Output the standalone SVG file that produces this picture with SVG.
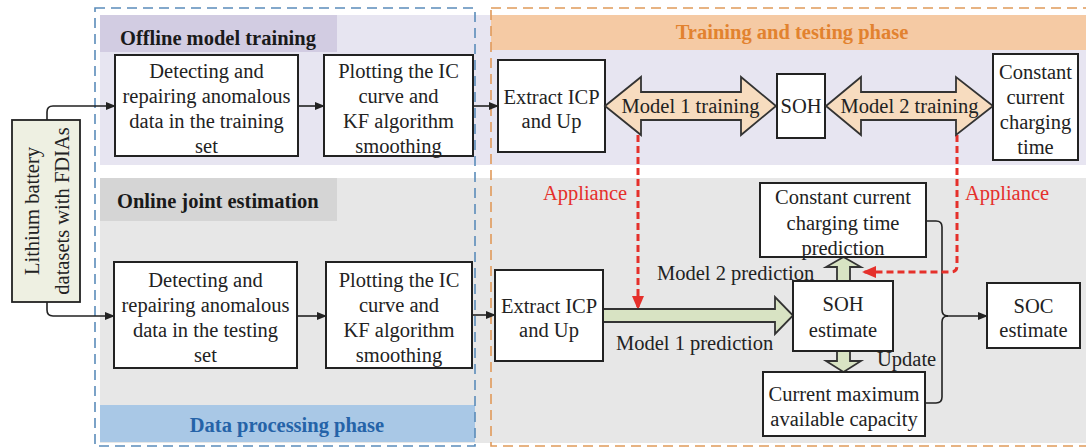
<svg xmlns="http://www.w3.org/2000/svg" width="1086" height="448" viewBox="0 0 1086 448">
<defs>
<style>
.t{font-family:"Liberation Serif","Times New Roman",serif;font-size:20.5px;fill:#222;text-anchor:middle}
.ts{font-family:"Liberation Serif","Times New Roman",serif;font-size:20.5px;fill:#222}
.hb{font-family:"Liberation Serif","Times New Roman",serif;font-size:20.5px;font-weight:bold}
.red{font-family:"Liberation Serif","Times New Roman",serif;font-size:20.5px;fill:#e5302b;text-anchor:middle}
.box{fill:#fff;stroke:#222;stroke-width:2}
.ln{fill:none;stroke:#222;stroke-width:1.6}
.rd{fill:none;stroke:#e5302b;stroke-width:3;stroke-dasharray:7 4}
.peach{fill:#f7dcbf;stroke:#333;stroke-width:1.8}
.green{fill:#d8e3c3;stroke:#333;stroke-width:1.8}
</style>
<marker id="ah" markerWidth="10" markerHeight="8" refX="9" refY="4" orient="auto" markerUnits="userSpaceOnUse">
<path d="M0,0 L10,4 L0,8 Z" fill="#222"/>
</marker>
<marker id="rh" markerWidth="14" markerHeight="12" refX="13" refY="6" orient="auto" markerUnits="userSpaceOnUse">
<path d="M0,0 L14,6 L0,12 Z" fill="#e5302b"/>
</marker>
</defs>

<g id="backgrounds">
<rect x="100" y="15" width="986" height="150" fill="#e7e5f1"/>
<rect x="100" y="15" width="237" height="37" fill="#d2cce2"/>
<rect x="491" y="15" width="595" height="35" fill="#f5caa4"/>
<rect x="100" y="178" width="986" height="265" fill="#e7e7e7"/>
<rect x="100" y="178" width="237" height="43" fill="#d5d5d5"/>
<rect x="100" y="405" width="375" height="37" fill="#a9c8e6"/>
<rect x="95" y="8" width="380" height="438" fill="none" stroke="#5b8cba" stroke-width="1.6" stroke-dasharray="10 6"/>
<rect x="491" y="8" width="600" height="438" fill="none" stroke="#e09a5a" stroke-width="1.6" stroke-dasharray="10 6"/>
<text class="hb" x="120" y="45" fill="#1a1a1a">Offline model training</text>
<text class="hb" x="117" y="208" fill="#1a1a1a">Online joint estimation</text>
<text class="hb" x="287" y="432" fill="#2563a8" text-anchor="middle">Data processing phase</text>
<text class="hb" x="792" y="39" fill="#e2822f" text-anchor="middle">Training and testing phase</text>
</g>

<g id="connectors">
<path class="ln" d="M47,120 V112 Q47,106 53,106 H115" marker-end="url(#ah)"/>
<path class="ln" d="M47,302 V310 Q47,316 53,316 H114" marker-end="url(#ah)"/>
<path class="ln" d="M298,106 H324" marker-end="url(#ah)"/>
<path class="ln" d="M297,316 H326" marker-end="url(#ah)"/>
<path class="ln" d="M473,106 H498" marker-end="url(#ah)"/>
<path class="ln" d="M472,315 H495" marker-end="url(#ah)"/>
<path class="ln" d="M926,221 H936 Q942,221 942,227 V310 Q942,316 948,316"/>
<path class="ln" d="M926,403 H936 Q942,403 942,397 V322 Q942,316 948,316"/>
<path class="ln" d="M945,316 H987" marker-end="url(#ah)"/>
<path class="rd" d="M638,135 V309" marker-end="url(#rh)"/>
<path class="rd" d="M957,135 V266 Q957,272 951,272 H863" marker-end="url(#rh)"/>
<polygon class="green" points="603,309 775,309 775,297 793,315.5 775,334 775,322 603,322"/>
<polygon class="green" points="837,281 837,267 826,267 843.5,257 861,267 850,267 850,281"/>
<polygon class="green" points="837,351 837,361 826,361 843.5,372 861,361 850,361 850,351"/>
<text class="ts" x="616" y="350">Model 1 prediction</text>
<text class="ts" x="657" y="280">Model 2 prediction</text>
<text class="ts" x="877" y="366">Update</text>
<text class="red" x="585" y="200">Appliance</text>
<text class="red" x="1007" y="200">Appliance</text>
</g>

<g id="n-lithium">
<rect x="12" y="120" width="68" height="182" fill="#eef0e2" stroke="#222" stroke-width="1.8"/>
<text class="t" transform="translate(32,211) rotate(-90)" dominant-baseline="central">Lithium battery</text>
<text class="t" transform="translate(62,211) rotate(-90)" dominant-baseline="central">datasets  with FDIAs</text>
</g>

<g id="n-detect-train">
<rect class="box" x="115" y="55" width="183" height="101"/>
<text class="t" x="206.5" y="78">Detecting and</text>
<text class="t" x="206.5" y="103">repairing anomalous</text>
<text class="t" x="206.5" y="128">data in the training</text>
<text class="t" x="206.5" y="153">set</text>
</g>

<g id="n-plot-train">
<rect class="box" x="324" y="55" width="149" height="101"/>
<text class="t" x="398.5" y="78">Plotting the IC</text>
<text class="t" x="398.5" y="103">curve and</text>
<text class="t" x="398.5" y="128">KF algorithm</text>
<text class="t" x="398.5" y="153">smoothing</text>
</g>

<g id="n-detect-test">
<rect class="box" x="114" y="262" width="183" height="106"/>
<text class="t" x="205.5" y="287">Detecting and</text>
<text class="t" x="205.5" y="312">repairing anomalous</text>
<text class="t" x="205.5" y="337">data in the testing</text>
<text class="t" x="205.5" y="362">set</text>
</g>

<g id="n-plot-test">
<rect class="box" x="326" y="262" width="146" height="106"/>
<text class="t" x="399" y="287">Plotting the IC</text>
<text class="t" x="399" y="312">curve and</text>
<text class="t" x="399" y="337">KF algorithm</text>
<text class="t" x="399" y="362">smoothing</text>
</g>

<g id="n-extract-train">
<rect class="box" x="498" y="60" width="107" height="92"/>
<text class="t" x="551.5" y="104">Extract ICP</text>
<text class="t" x="551.5" y="128">and Up</text>
</g>

<g id="n-model1-training">
<polygon class="peach" points="605,106 641,77 641,92 741,92 741,77 776,106 741,135 741,120 641,120 641,135"/>
<text class="t" x="690.5" y="113">Model 1 training</text>
</g>

<g id="n-soh">
<rect class="box" x="777" y="74" width="48" height="64"/>
<text class="t" x="801" y="113">SOH</text>
</g>

<g id="n-model2-training">
<polygon class="peach" points="826,106 861,77 861,92 956,92 956,77 993,106 956,135 956,120 861,120 861,135"/>
<text class="t" x="909.5" y="113">Model 2 training</text>
</g>

<g id="n-cct">
<rect class="box" x="993" y="54" width="85" height="106"/>
<text class="t" x="1035.5" y="79">Constant</text>
<text class="t" x="1035.5" y="104">current</text>
<text class="t" x="1035.5" y="129">charging</text>
<text class="t" x="1035.5" y="154">time</text>
</g>

<g id="n-extract-test">
<rect class="box" x="495" y="270" width="108" height="91"/>
<text class="t" x="549" y="313">Extract ICP</text>
<text class="t" x="549" y="337">and Up</text>
</g>

<g id="n-cct-pred">
<rect class="box" x="760" y="183" width="166" height="74"/>
<text class="t" x="843" y="204">Constant current</text>
<text class="t" x="843" y="230">charging time</text>
<text class="t" x="843" y="255">prediction</text>
</g>

<g id="n-soh-est">
<rect class="box" x="793" y="281" width="100" height="70"/>
<text class="t" x="843" y="311">SOH</text>
<text class="t" x="843" y="337">estimate</text>
</g>

<g id="n-capacity">
<rect class="box" x="763" y="372" width="162" height="64"/>
<text class="t" x="844" y="401">Current maximum</text>
<text class="t" x="844" y="426">available capacity</text>
</g>

<g id="n-soc">
<rect class="box" x="987" y="283" width="93" height="65"/>
<text class="t" x="1033.5" y="313">SOC</text>
<text class="t" x="1033.5" y="337">estimate</text>
</g>
</svg>
